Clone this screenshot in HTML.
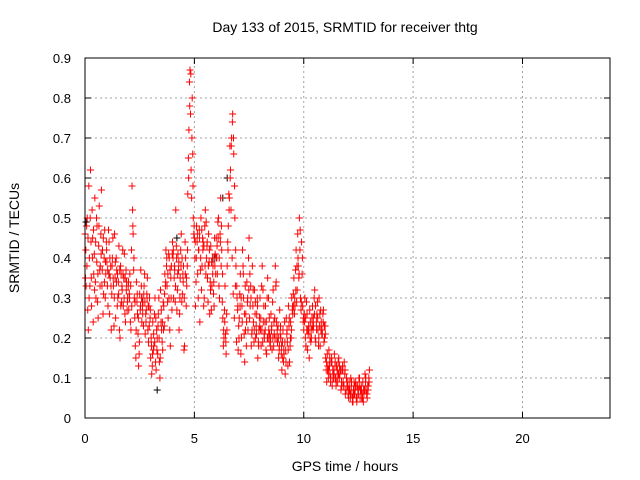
<!DOCTYPE html>
<html><head><meta charset="utf-8"><style>
html,body{margin:0;padding:0;background:#fff;}
svg{display:block;font-family:"Liberation Sans",sans-serif;}
</style></head><body>
<svg id="chart" width="640" height="480">
<text x="345" y="32" text-anchor="middle" font-size="14">Day 133 of 2015, SRMTID for receiver thtg</text>
<text x="345" y="471" text-anchor="middle" font-size="14">GPS time / hours</text>
<text transform="translate(19,238) rotate(-90)" text-anchor="middle" font-size="14">SRMTID / TECUs</text>
<g id="grid"></g><g id="axes"></g><g id="black"></g><g id="red"></g>
<rect x="85" y="58" width="525" height="360" fill="none" stroke="#000" stroke-width="1"/>
</svg>
<script>
const xTicks=[0,5,10,15,20];
const yTicks=[0,0.1,0.2,0.3,0.4,0.5,0.6,0.7,0.8,0.9];
const yTickLabels=["0","0.1","0.2","0.3","0.4","0.5","0.6","0.7","0.8","0.9"];
const seriesStart=0, seriesStep=0.05, series2Offset=0.025, series3Offset=0.0375;
const redA=[0.46,0.33,0.50,0.22,0.40,0.62,0.28,0.45,0.36,0.55,0.30,0.48,0.25,0.53,0.38,0.57,0.42,0.31,0.47,0.36,
0.39,0.28,0.44,0.35,0.22,0.40,0.33,0.46,0.25,0.37,0.30,0.43,0.20,0.36,0.32,0.28,0.41,0.24,0.34,0.30,
0.27,0.36,0.22,0.58,0.46,0.30,0.18,0.34,0.26,0.13,0.31,0.37,0.24,0.29,0.33,0.21,0.27,0.35,0.19,0.30,
0.15,0.11,0.24,0.18,0.30,0.12,0.20,0.26,0.14,0.32,0.22,0.17,0.28,0.36,0.42,0.33,0.25,0.40,0.18,0.38,
0.44,0.30,0.37,0.52,0.27,0.41,0.22,0.35,0.46,0.31,0.38,0.18,0.40,0.33,0.56,0.72,0.87,0.62,0.80,0.50,
0.45,0.28,0.48,0.36,0.42,0.24,0.50,0.38,0.44,0.30,0.52,0.40,0.35,0.46,0.26,0.43,0.33,0.38,0.28,0.41,
0.45,0.36,0.50,0.30,0.55,0.42,0.25,0.20,0.33,0.16,0.38,0.48,0.55,0.62,0.70,0.76,0.66,0.50,0.38,0.30,
0.17,0.25,0.36,0.20,0.42,0.30,0.14,0.26,0.34,0.22,0.45,0.28,0.18,0.38,0.24,0.32,0.20,0.26,0.15,0.22,
0.30,0.18,0.38,0.24,0.20,0.28,0.16,0.35,0.22,0.19,0.26,0.17,0.32,0.21,0.38,0.24,0.19,0.15,0.27,0.20,
0.12,0.22,0.16,0.11,0.25,0.19,0.28,0.14,0.24,0.30,0.26,0.35,0.28,0.42,0.32,0.38,0.50,0.30,0.44,0.28,
0.22,0.30,0.18,0.26,0.21,0.15,0.24,0.20,0.28,0.23,0.32,0.19,0.26,0.22,0.30,0.18,0.24,0.21,0.27,0.20,
0.15,0.09,0.13,0.17,0.11,0.14,0.08,0.12,0.16,0.10,0.13,0.09,0.15,0.11,0.07,0.12,0.09,0.14,0.06,0.10,
0.08,0.05,0.07,0.10,0.06,0.04,0.09,0.07,0.05,0.08,0.06,0.10,0.07,0.05,0.09,0.06,0.11,0.07,0.05,0.08,0.12];
const redB=[0.35,0.48,0.27,0.58,0.33,0.44,0.52,0.24,0.41,0.34,0.50,0.29,0.43,0.37,0.46,0.33,0.26,0.40,0.30,0.44,
0.33,0.47,0.26,0.38,0.31,0.45,0.23,0.35,0.40,0.28,0.34,0.22,0.38,0.29,0.42,0.35,0.26,0.37,0.27,0.33,
0.31,0.24,0.42,0.52,0.37,0.25,0.15,0.29,0.21,0.16,0.27,0.33,0.28,0.23,0.36,0.26,0.31,0.22,0.28,0.25,
0.20,0.13,0.17,0.26,0.14,0.22,0.16,0.30,0.10,0.24,0.19,0.29,0.23,0.33,0.38,0.29,0.41,0.22,0.35,0.27,
0.40,0.35,0.29,0.43,0.32,0.37,0.26,0.42,0.29,0.36,0.17,0.44,0.28,0.38,0.65,0.84,0.76,0.55,0.66,0.46,
0.40,0.34,0.44,0.30,0.47,0.37,0.32,0.45,0.28,0.48,0.36,0.43,0.29,0.39,0.34,0.27,0.40,0.31,0.45,0.36,
0.40,0.49,0.33,0.46,0.38,0.29,0.18,0.27,0.21,0.26,0.44,0.56,0.68,0.52,0.40,0.31,0.25,0.33,0.19,0.27,
0.23,0.31,0.16,0.28,0.38,0.21,0.33,0.18,0.29,0.40,0.25,0.33,0.21,0.28,0.19,0.26,0.23,0.30,0.19,0.25,
0.22,0.33,0.19,0.28,0.24,0.17,0.30,0.20,0.25,0.18,0.22,0.29,0.18,0.25,0.33,0.20,0.23,0.17,0.21,0.16,
0.19,0.14,0.24,0.17,0.21,0.13,0.23,0.18,0.20,0.27,0.31,0.26,0.37,0.29,0.46,0.35,0.42,0.27,0.36,0.24,
0.26,0.20,0.29,0.17,0.23,0.27,0.19,0.25,0.22,0.30,0.20,0.24,0.29,0.18,0.23,0.27,0.21,0.26,0.19,0.23,
0.12,0.16,0.10,0.13,0.09,0.15,0.12,0.10,0.13,0.08,0.11,0.14,0.10,0.12,0.09,0.13,0.08,0.11,0.07,0.09,
0.06,0.09,0.05,0.08,0.04,0.07,0.06,0.09,0.04,0.07,0.10,0.05,0.08,0.06,0.04,0.07,0.09,0.06,0.08,0.10];
const redC=[0.42,0.38,0.45,0.30,0.50,0.35,0.40,0.47,0.32,0.44,0.39,0.36,0.48,0.33,0.41,0.37,0.45,0.34,0.39,0.42,
0.37,0.36,0.40,0.33,0.38,0.35,0.30,0.39,0.34,0.36,0.31,0.37,0.28,0.33,0.36,0.30,0.35,0.32,0.29,0.34,
0.30,0.33,0.28,0.48,0.40,0.29,0.22,0.31,0.25,0.19,0.28,0.30,0.26,0.31,0.29,0.24,0.30,0.28,0.23,0.27,
0.18,0.16,0.21,0.19,0.25,0.17,0.23,0.20,0.15,0.27,0.24,0.22,0.31,0.34,0.40,0.36,0.30,0.37,0.30,0.41,
0.42,0.38,0.33,0.40,0.36,0.39,0.30,0.38,0.40,0.34,0.30,0.36,0.35,0.42,0.60,0.78,0.86,0.70,0.58,0.48,
0.44,0.40,0.46,0.42,0.45,0.40,0.47,0.42,0.43,0.38,0.49,0.44,0.38,0.42,0.32,0.39,0.36,0.34,0.38,0.40,
0.43,0.45,0.40,0.44,0.48,0.36,0.22,0.24,0.19,0.22,0.42,0.52,0.60,0.68,0.74,0.70,0.58,0.42,0.33,0.28,
0.20,0.28,0.30,0.24,0.36,0.26,0.22,0.24,0.30,0.32,0.36,0.30,0.22,0.32,0.22,0.29,0.21,0.28,0.18,0.23,
0.25,0.22,0.32,0.21,0.22,0.24,0.20,0.30,0.21,0.20,0.23,0.20,0.24,0.20,0.34,0.22,0.20,0.18,0.23,0.18,
0.15,0.17,0.19,0.14,0.22,0.17,0.25,0.20,0.22,0.28,0.28,0.30,0.32,0.38,0.40,0.36,0.47,0.29,0.40,0.25,
0.24,0.25,0.22,0.22,0.22,0.20,0.22,0.23,0.25,0.26,0.28,0.22,0.25,0.20,0.26,0.22,0.22,0.24,0.23,0.21,
0.14,0.12,0.12,0.15,0.10,0.14,0.10,0.11,0.14,0.09,0.12,0.11,0.13,0.12,0.08,0.12,0.08,0.12,0.07,0.09,
0.07,0.07,0.06,0.09,0.05,0.06,0.08,0.08,0.05,0.07,0.08,0.07,0.07,0.05,0.07,0.07,0.10,0.06,0.07,0.09];
const blackTimes=[0.05,3.3,4.2,5.9,6.5,6.3,10.1,1.1,2.6];
const blackValues=[0.49,0.07,0.45,0.40,0.60,0.55,0.18,0.36,0.30];

const X0=85,X1=610,Y0=418,Y1=58,XMAX=24,YMAX=0.9;
const sx=t=>X0+(t/XMAX)*(X1-X0);
const sy=v=>Y0-(v/YMAX)*(Y0-Y1);
const NS="http://www.w3.org/2000/svg";
function mk(tag,parent,attrs){const e=document.createElementNS(NS,tag);for(const k in attrs)e.setAttribute(k,attrs[k]);parent.appendChild(e);return e;}
const grid=document.getElementById('grid'),axes=document.getElementById('axes');
xTicks.forEach(t=>{
  const x=sx(t);
  if(t>0){const g=mk('line',grid,{x1:x,y1:Y0,x2:x,y2:Y1,stroke:'#a0a0a0','stroke-dasharray':'2,3'});
  
  }
  const a=mk('path',axes,{d:`M${x},${Y0}v-6M${x},${Y1}v6`,stroke:'#000'});
  
  
  const l=mk('text',axes,{x:x,y:443,'text-anchor':'middle','font-size':'13'});l.textContent=String(t);
  
  
});
yTicks.forEach((v,i)=>{
  const y=sy(v);
  if(v>0&&v<YMAX){const g=mk('line',grid,{x1:X0,y1:y,x2:X1,y2:y,stroke:'#a0a0a0','stroke-dasharray':'2,3'});
  
  }
  const a=mk('path',axes,{d:`M${X0},${y}h6M${X1},${y}h-6`,stroke:'#000'});
  
  
  const l=mk('text',axes,{x:71,y:y+5,'text-anchor':'end','font-size':'13'});l.textContent=yTickLabels[i];
  
  
});
function cross(t,v){const x=sx(t),y=sy(v);return `M${x-3.5},${y}h7M${x},${y-3.5}v7`;}
let db='';blackTimes.forEach((t,i)=>{db+=cross(t,blackValues[i]);});
const bp=mk('path',document.getElementById('black'),{d:db,stroke:'#000','stroke-width':1,fill:'none'});


let dr='';
redA.forEach((v,i)=>{dr+=cross(seriesStart+i*seriesStep,v);});
redB.forEach((v,i)=>{dr+=cross(seriesStart+series2Offset+i*seriesStep,v);});
redC.forEach((v,i)=>{dr+=cross(seriesStart+series3Offset+i*seriesStep,v);});
const rp=mk('path',document.getElementById('red'),{d:dr,stroke:'#ff0000','stroke-width':1,fill:'none'});


</script>
</body></html>
